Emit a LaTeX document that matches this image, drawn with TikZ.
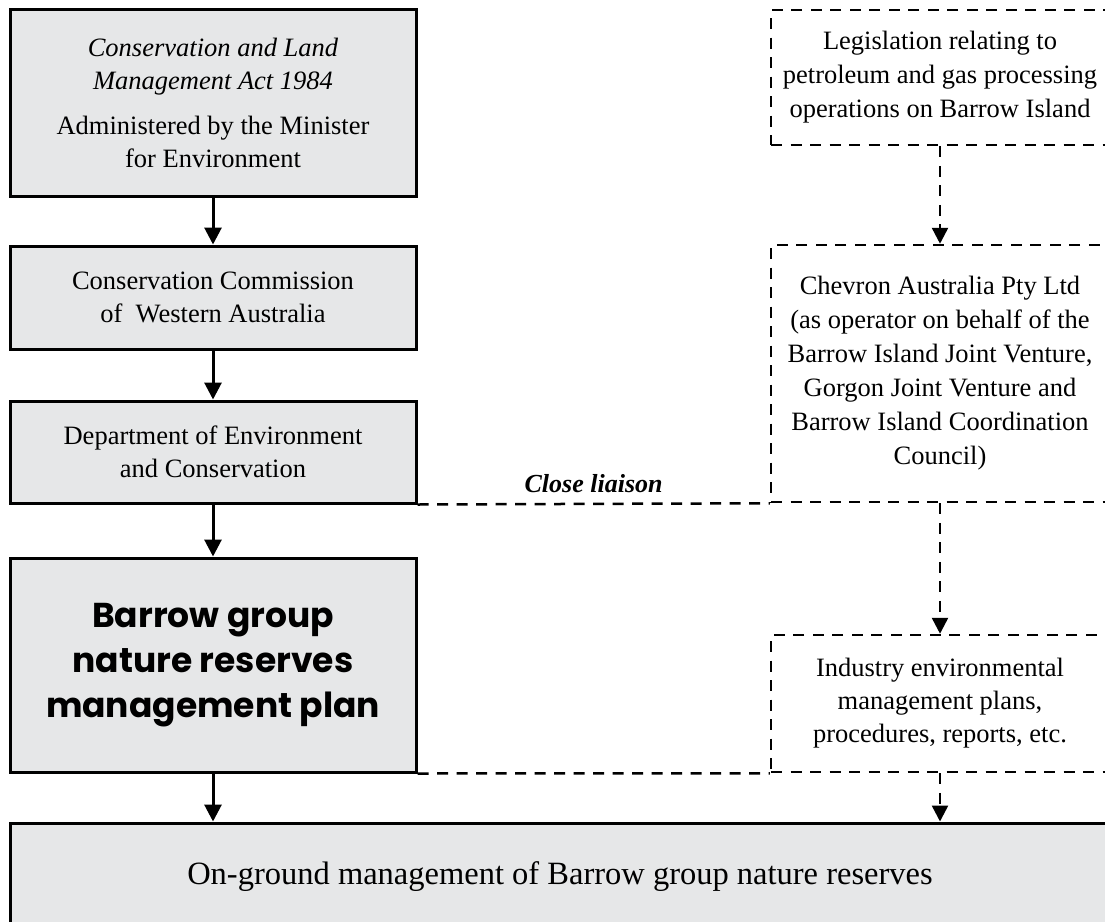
\documentclass[tikz,border=0pt]{standalone}
\usepackage{fontspec}
\setmainfont{Liberation Serif}
\newfontfamily\plansans{Poppins}
\usetikzlibrary{arrows.meta}
\definecolor{boxgray}{RGB}{230,231,232}
\tikzset{
  solidbox/.style={draw,line width=3pt,fill=boxgray,inner sep=0pt,align=center,
    font=\fontsize{26.5}{33}\selectfont},
  dashbox/.style={draw,line width=2.5pt,dash pattern=on 11pt off 8.5pt,inner sep=0pt,
    align=center,font=\fontsize{26.5}{34}\selectfont},
  solidarrow/.style={line width=3pt,-{Triangle[width=17pt,length=17pt]}},
  dasharrow/.style={line width=2.5pt,dash pattern=on 11pt off 8.5pt,
    -{Triangle[width=16pt,length=16pt]}},
  liaison/.style={line width=2.5pt,dash pattern=on 11pt off 8.5pt}
}

\begin{document}
\begin{tikzpicture}[x=1pt,y=-1pt]
  \clip (0,0) rectangle (1105,921);

  % left column
  \node[solidbox,minimum width=406pt,minimum height=187pt] (act) at (213,102.5)
    {\textit{Conservation and Land}\\ \textit{Management Act 1984}\\[12pt]
     Administered by the Minister\\ for Environment};
  \node[solidbox,minimum width=406pt,minimum height=103pt] (comm) at (213,297.5)
    {Conservation Commission\\ of~ Western Australia};
  \node[solidbox,minimum width=406pt,minimum height=102pt] (dec) at (213,452)
    {Department of Environment\\ and Conservation};
  \node[solidbox,minimum width=406pt,minimum height=214pt,
        font=\plansans\bfseries\fontsize{34.5}{45}\selectfont] (plan) at (213,665)
    {Barrow group\\ nature reserves\\ management plan};
  \node[solidbox,minimum width=1100pt,minimum height=107pt,
        font=\fontsize{32.5}{38}\selectfont] (ground) at (560,876.5)
    {On-ground management of Barrow group nature reserves};

  % right column
  \node[dashbox,minimum width=338pt,minimum height=135pt] (legis) at (940,77.5)
    {Legislation relating to\\ petroleum and gas processing\\ operations on Barrow Island};
  \node[dashbox,minimum width=338pt,minimum height=257pt] (chevron) at (940,373.5)
    {Chevron Australia Pty Ltd\\ (as operator on behalf of the\\ Barrow Island Joint Venture,\\
     Gorgon Joint Venture and\\ Barrow Island Coordination\\ Council)};
  \node[dashbox,minimum width=338pt,minimum height=137pt,
        font=\fontsize{26.5}{33}\selectfont] (industry) at (940,703.5)
    {Industry environmental\\ management plans,\\ procedures, reports, etc.};

  \draw[solidarrow] (act) -- (comm);
  \draw[solidarrow] (comm) -- (dec);
  \draw[solidarrow] (dec) -- (plan);
  \draw[solidarrow] (plan.south) -- (plan.south |- ground.north);

  \draw[dasharrow] (legis) -- (chevron);
  \draw[dasharrow] (chevron) -- (industry);
  \draw[dasharrow] (industry.south) -- (industry.south |- ground.north);

  \draw[liaison] (dec.south east) -- (chevron.south west)
    node[midway,above=7pt,font=\fontsize{26}{31}\selectfont\bfseries\itshape] (liaisonlabel) {Close liaison};
  \draw[liaison] (plan.south east) -- (industry.south west);
\end{tikzpicture}
\end{document}
